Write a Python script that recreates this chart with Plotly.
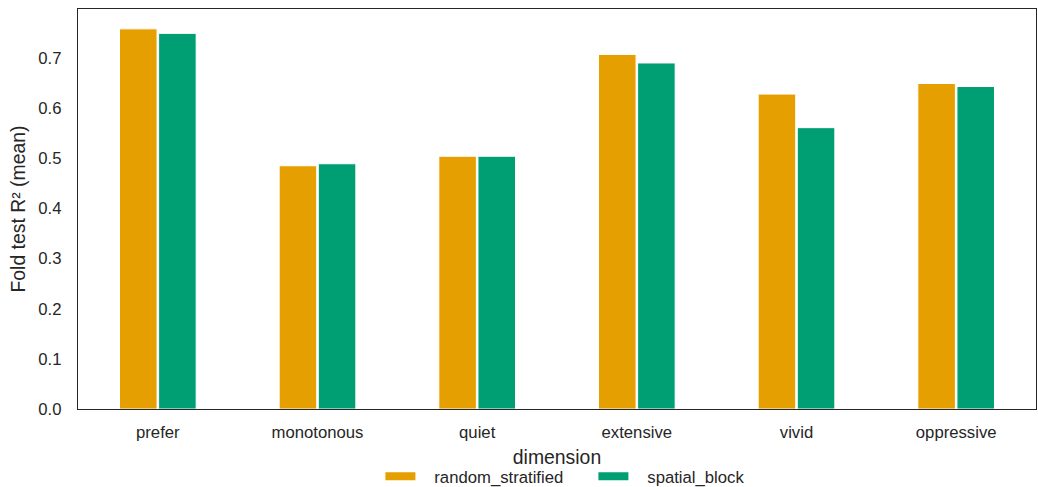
import plotly.graph_objects as go

categories = ["prefer", "monotonous", "quiet", "extensive", "vivid", "oppressive"]
random_stratified = [0.758, 0.485, 0.504, 0.707, 0.628, 0.649]
spatial_block = [0.749, 0.489, 0.504, 0.690, 0.561, 0.643]
series_names = ["random_stratified", "spatial_block"]
colors = ["#E69F00", "#009E73"]

fig = go.Figure()
for name, vals, col in zip(series_names, [random_stratified, spatial_block], colors):
    fig.add_trace(go.Bar(
        x=categories, y=vals, name=name, showlegend=False,
        marker=dict(color=col, line=dict(color="white", width=1)),
    ))
# legend entries drawn as wide swatches (non-breaking spaces only pad the gap)
for name, col in zip(series_names, colors):
    fig.add_trace(go.Scatter(
        x=[None], y=[None], mode="lines", name="\u00a0\u00a0\u00a0" + name,
        line=dict(color=col, width=8), showlegend=True,
    ))

font_family = "Arial, Liberation Sans, sans-serif"
fig.update_layout(
    width=1038, height=487,
    margin=dict(l=78, r=2, t=9, b=78, autoexpand=False),
    plot_bgcolor="white", paper_bgcolor="white",
    barmode="group", bargap=0.51, bargroupgap=0.04,
    font=dict(family=font_family, size=16.7, color="#262626"),
    showlegend=True,
    legend=dict(orientation="h", x=0.538, xanchor="center", y=-0.125, yanchor="top",
                font=dict(size=16.7), itemwidth=30, entrywidth=168,
                traceorder="normal", bgcolor="rgba(0,0,0,0)"),
)
fig.update_xaxes(
    showline=True, linecolor="#262626", linewidth=1.2, mirror=True,
    showgrid=False, ticks="", range=[-0.5, 5.5], automargin=False,
    title=dict(text="dimension", font=dict(size=19.4), standoff=9),
    tickfont=dict(size=16.7), ticklabelstandoff=8,
)
fig.update_yaxes(
    showline=True, linecolor="#262626", linewidth=1.2, mirror=True,
    showgrid=False, ticks="", range=[0, 0.7976], dtick=0.1, tickformat=".1f",
    automargin=False,
    title=dict(text="Fold test R² (mean)", font=dict(size=19.4), standoff=7),
    tickfont=dict(size=16.7), zeroline=False, ticklabelstandoff=12,
)
fig.write_html("out.html", config={"displayModeBar": False},
               post_script="document.body.style.margin='0px';document.body.style.overflow='hidden';")
